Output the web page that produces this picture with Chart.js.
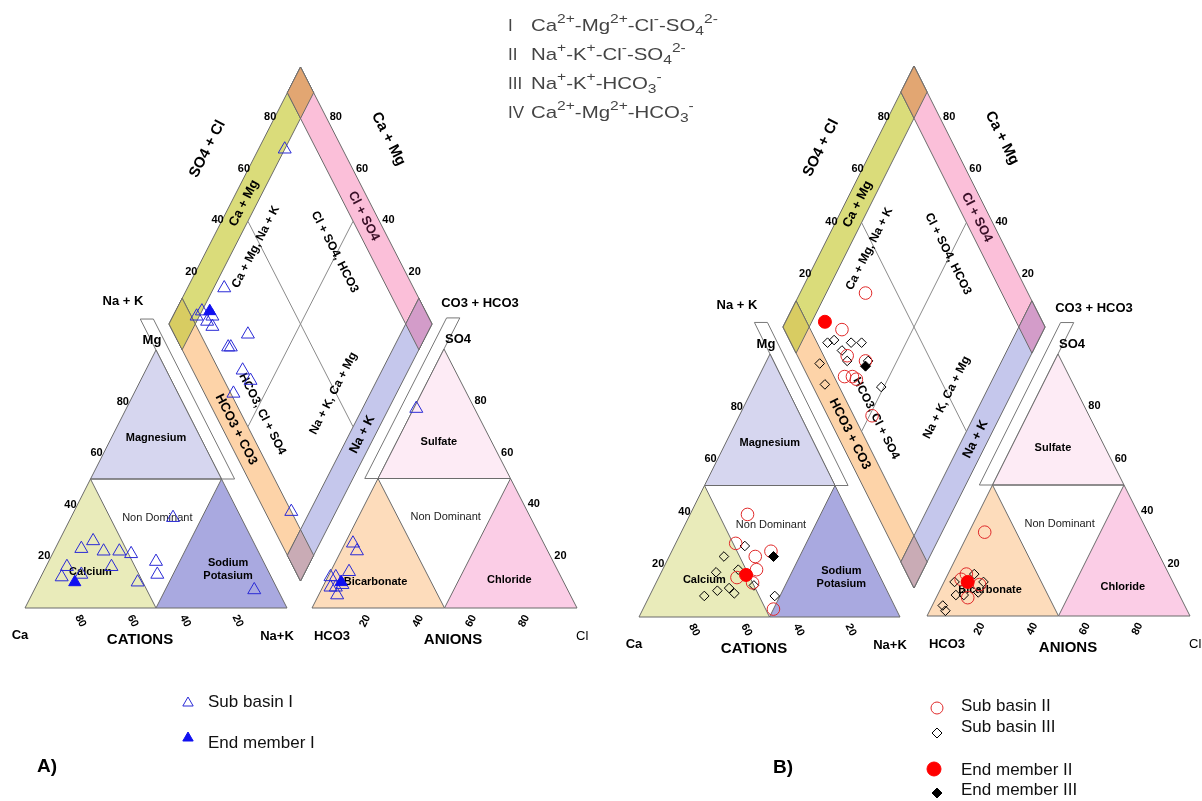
<!DOCTYPE html>
<html><head><meta charset="utf-8">
<script src="https://cdn.jsdelivr.net/npm/chart.js@4.4.1/dist/chart.umd.min.js"></script>
<style>html,body{margin:0;padding:0;background:#fff;}canvas{display:block;}</style>
</head><body>
<div style="width:1202px;height:801px;position:relative"><canvas id="c" width="1202" height="801"></canvas></div>
<script>
// ---------------- DATA (percent of meq/L) ----------------
const tickValues = [20, 40, 60, 80];

// Panel A - Sub basin I : cations (Ca, Mg, Na+K)
const A_I_ca  = [61, 67, 59, 53, 49, 41, 76, 59, 43, 80, 72, 52, 26, 9];
const A_I_mg  = [26, 23, 22, 22, 21, 18, 16, 16, 13, 12, 13, 10, 35, 7];
const A_I_nak = [13, 10, 19, 25, 30, 41,  8, 25, 44,  8, 15, 38, 39, 84];
// anions (HCO3, SO4, Cl)
const A_I_hco3 = [72, 72, 79, 87, 85, 89, 87, 84, 88, 22];
const A_I_so4  = [25, 22, 14, 12, 12,  8,  8,  9,  5, 77];
const A_I_cl   = [ 3,  6,  7,  1,  3,  3,  5,  7,  7,  1];
// diamond (Ca+Mg, SO4+Cl)
const A_I_camg  = [86, 90, 91, 86, 83, 85, 68, 73, 72, 63, 58, 62, 90, 17];
const A_I_so4cl = [28, 15, 12, 15, 16, 18, 28, 18, 19, 19, 20, 11, 78, 10];
// End member I
const A_EM_ca = [76], A_EM_mg = [10], A_EM_nak = [14];
const A_EM_hco3 = [84], A_EM_so4 = [10], A_EM_cl = [6];
const A_EM_camg = [87], A_EM_so4cl = [18];

// Panel B - Sub basin II
const B_II_ca  = [39, 49, 44, 37, 46, 55, 50, 47];
const B_II_mg  = [39, 28, 23, 25, 18, 15, 13, 3];
const B_II_nak = [22, 23, 33, 38, 36, 30, 37, 50];
const B_II_hco3 = [62, 77, 81, 74, 80];
const B_II_so4  = [32, 16, 7, 12, 14];
const B_II_cl   = [6, 7, 12, 14, 6];
const B_II_camg  = [75, 77, 70, 62, 67, 64, 62, 49];
const B_II_so4cl = [38, 22, 19, 25, 14, 17, 18, 17];
// Sub basin III
const B_III_ca  = [46, 56, 62, 53, 71, 65, 60, 59, 50, 44];
const B_III_mg  = [27, 23, 17, 18, 8, 10, 11, 9, 12, 8];
const B_III_nak = [27, 21, 21, 29, 21, 25, 29, 32, 38, 48];
const B_III_hco3 = [74, 72, 83, 85, 82, 76, 92, 92];
const B_III_so4  = [16, 13, 13, 8, 8, 9, 4, 2];
const B_III_cl   = [10, 15, 4, 7, 10, 15, 4, 6];
const B_III_camg  = [80, 78, 73, 71, 67, 69, 61, 79, 73, 51];
const B_III_so4cl = [14, 17, 18, 23, 27, 18, 26, 7, 5, 26];
// End members II and III
const B_EM2_ca = [51], B_EM2_mg = [16], B_EM2_nak = [33];
const B_EM2_hco3 = [78], B_EM2_so4 = [13], B_EM2_cl = [9];
const B_EM2_camg = [85], B_EM2_so4cl = [17];
const B_EM3_ca = [37], B_EM3_mg = [23], B_EM3_nak = [40];
const B_EM3_hco3 = [78], B_EM3_so4 = [13], B_EM3_cl = [9];
const B_EM3_camg = [61], B_EM3_so4cl = [24];

// ---------------- LAYOUT (geometry of the two Piper panels) ----------------
const G = {
  A: { cat: [[25,608],[156,350],[287,608]],      // Ca, Mg, Na+K corners
       an:  [[312,608],[444,349],[577,608]],     // HCO3, SO4, Cl corners
       dia: {bot:[300.5,581], left:[169,324], right:[432,324]} },
  B: { cat: [[639,617],[770,354],[900,617]],
       an:  [[927,616],[1058,354],[1190,616]],
       dia: {bot:[914,588], left:[783,327], right:[1045,327]} }
};
function tern(tri, a, b, c) {
  const s = a + b + c;
  return [(tri[0][0]*a + tri[1][0]*b + tri[2][0]*c)/s, (tri[0][1]*a + tri[1][1]*b + tri[2][1]*c)/s];
}
function dia(d, camg, so4cl) {
  return [d.bot[0] + camg/100*(d.left[0]-d.bot[0]) + so4cl/100*(d.right[0]-d.bot[0]),
          d.bot[1] + camg/100*(d.left[1]-d.bot[1]) + so4cl/100*(d.right[1]-d.bot[1])];
}
const toXY = p => ({x: p[0], y: p[1]});
function piperPoints(g, ca, mg, nak, hco3, so4, cl, camg, so4cl) {
  const out = [];
  ca.forEach((v,i) => out.push(toXY(tern(g.cat, v, mg[i], nak[i]))));
  hco3.forEach((v,i) => out.push(toXY(tern(g.an, v, so4[i], cl[i]))));
  camg.forEach((v,i) => out.push(toXY(dia(g.dia, v, so4cl[i]))));
  return out;
}

const FONT = "'Liberation Sans', Arial, sans-serif";
const COL = {
  mg: '#d6d6ef', ca: '#e9ebba', na: '#a9a9e0',
  so4: '#fdebf5', hco3: '#fddcbb', cl: '#fbcde6',
  bY: '#dadc7a', bP: '#fbbfd9', bO: '#fdd3a8', bB: '#c5c7ec',
  oT: '#e2a672', oL: '#d8cc62', oR: '#d39cc9', oB: '#c9abb5',
  edge: '#6b6b6b'
};

function poly(ctx, pts, fill, stroke) {
  ctx.beginPath(); ctx.moveTo(pts[0][0], pts[0][1]);
  for (let i=1;i<pts.length;i++) ctx.lineTo(pts[i][0], pts[i][1]);
  ctx.closePath();
  if (fill) { ctx.fillStyle = fill; ctx.fill(); }
  if (stroke) { ctx.strokeStyle = stroke; ctx.lineWidth = 1; ctx.stroke(); }
}
function pline(ctx, pts, stroke, w) {
  ctx.beginPath(); ctx.moveTo(pts[0][0], pts[0][1]);
  for (let i=1;i<pts.length;i++) ctx.lineTo(pts[i][0], pts[i][1]);
  ctx.strokeStyle = stroke; ctx.lineWidth = w || 1; ctx.stroke();
}
function text(ctx, s, p, o) {
  o = o || {};
  ctx.save(); ctx.translate(p[0] + (o.dx||0), p[1] + (o.dy||0));
  if (o.rot) ctx.rotate(o.rot);
  ctx.font = o.font || ('bold 12px ' + FONT);
  ctx.fillStyle = o.color || '#000';
  ctx.textAlign = o.align || 'center'; ctx.textBaseline = 'middle';
  if (Array.isArray(s)) s.forEach((t,i)=>ctx.fillText(t, 0, (i-(s.length-1)/2)*(o.lh||13)));
  else ctx.fillText(s, 0, 0);
  ctx.restore();
}
function marker(ctx, style, x, y, r, fill, stroke) {
  ctx.beginPath();
  if (style === 'triangle') { ctx.moveTo(x, y-r); ctx.lineTo(x+r*0.866, y+r*0.5); ctx.lineTo(x-r*0.866, y+r*0.5); ctx.closePath(); }
  else if (style === 'circle') ctx.arc(x, y, r, 0, Math.PI*2);
  else { ctx.moveTo(x, y-r); ctx.lineTo(x+r, y); ctx.lineTo(x, y+r); ctx.lineTo(x-r, y); ctx.closePath(); }
  if (fill) { ctx.fillStyle = fill; ctx.fill(); }
  if (stroke) { ctx.strokeStyle = stroke; ctx.lineWidth = 1; ctx.stroke(); }
}
function rich(ctx, x, y, parts, size, color, sx) {
  ctx.save(); ctx.translate(x, y); ctx.scale(sx || 1, 1);
  let cx = 0; ctx.fillStyle = color; ctx.textBaseline = 'alphabetic'; ctx.textAlign = 'left';
  parts.forEach(([s, m]) => {
    const fs = m ? Math.round(size*0.76) : size;
    ctx.font = fs + 'px ' + FONT;
    const dy = m === 'sup' ? -size*0.45 : (m === 'sub' ? size*0.25 : 0);
    ctx.fillText(s, cx, dy);
    cx += ctx.measureText(s).width;
  });
  ctx.restore();
}

function drawPanel(chart, ctx, g) {
  const sx = chart.scales.x, sy = chart.scales.y;
  const px = p => [sx.getPixelForValue(p[0]), sy.getPixelForValue(p[1])];
  const C = (a,b,c) => px(tern(g.cat,a,b,c));
  const A = (a,b,c) => px(tern(g.an,a,b,c));
  const D = (c,a) => px(dia(g.dia,c,a));
  const ang = (p,q) => Math.atan2(q[1]-p[1], q[0]-p[0]);
  const up = ang(D(100,0), D(100,100));     // about -63 deg
  const dn = ang(D(100,100), D(0,100));      // about +63 deg

  // ---- white side boxes
  poly(ctx, [C(0,50,50), C(0,112,-12), C(-5,112,-7), C(-5,50,55)], null, '#777');
  poly(ctx, [A(50,50,0), A(-12,112,0), A(-7,112,-5), A(55,50,-5)], null, '#777');

  // ---- cation triangle
  poly(ctx, [C(50,50,0), C(0,100,0), C(0,50,50)], COL.mg, COL.edge);
  poly(ctx, [C(100,0,0), C(50,50,0), C(50,0,50)], COL.ca, COL.edge);
  poly(ctx, [C(50,0,50), C(0,50,50), C(0,0,100)], COL.na, COL.edge);
  pline(ctx, [C(50,50,0), C(0,50,50)], COL.edge);
  // ---- anion triangle
  poly(ctx, [A(50,50,0), A(0,100,0), A(0,50,50)], COL.so4, COL.edge);
  poly(ctx, [A(100,0,0), A(50,50,0), A(50,0,50)], COL.hco3, COL.edge);
  poly(ctx, [A(50,0,50), A(0,50,50), A(0,0,100)], COL.cl, COL.edge);
  pline(ctx, [A(50,50,0), A(0,50,50)], COL.edge);

  // ---- diamond bands
  const band = (c0,c1,a0,a1,col) => poly(ctx, [D(c0,a0), D(c1,a0), D(c1,a1), D(c0,a1)], col, COL.edge);
  band(90,100,0,100,COL.bY); band(0,100,90,100,COL.bP);
  band(0,100,0,10,COL.bO);   band(0,10,0,100,COL.bB);
  band(90,100,90,100,COL.oT); band(90,100,0,10,COL.oL);
  band(0,10,90,100,COL.oR);   band(0,10,0,10,COL.oB);
  pline(ctx, [D(50,10), D(50,90)], '#8a8a8a');
  pline(ctx, [D(10,50), D(90,50)], '#8a8a8a');

  // ---- tick labels
  const tf = 'bold 11px ' + FONT;
  const catR = ang(C(0,100,0), C(0,0,100)), anL = ang(A(100,0,0), A(0,100,0));
  tickValues.forEach(v => {
    text(ctx, String(v), C(100-v, v, 0), {dx:-7, font:tf});
    text(ctx, String(v), C(v, 0, 100-v), {dx:3, dy:13, font:tf, rot:catR});
    text(ctx, String(v), A(0, v, 100-v), {dx:10, font:tf});
    text(ctx, String(v), A(100-v, 0, v), {dx:0, dy:13, font:tf, rot:anL});
    text(ctx, String(v), D(100, v), {dx:-4, dy:-1, font:tf});
    text(ctx, String(v), D(v, 100), {dx:9, dy:-1, font:tf});
  });

  // ---- region labels
  const rf = 'bold 11px ' + FONT, nf = '11px ' + FONT;
  text(ctx, 'Magnesium', C(17,66,17), {font:rf});
  text(ctx, 'Calcium', C(68,14,18), {font:rf});
  text(ctx, ['Sodium','Potasium'], C(15,15,70), {font:rf, lh:13});
  text(ctx, 'Non Dominant', C(32,35,33), {font:nf, color:'#222'});
  text(ctx, 'Sulfate', A(20,64,16), {font:rf});
  text(ctx, 'Bicarbonate', A(71,10,19), {font:rf});
  text(ctx, 'Chloride', A(20,11,69), {font:rf});
  text(ctx, 'Non Dominant', A(32,35,33), {font:nf, color:'#222'});

  // ---- axis labels
  const lf = 'bold 13px ' + FONT, bf = 'bold 15px ' + FONT;
  const ca = C(100,0,0), nk = C(0,0,100), mg = C(0,100,0);
  text(ctx, 'Ca', ca, {dx:-5, dy:27, font:lf});
  text(ctx, 'CATIONS', ca, {dx:115, dy:32, font:bf});
  text(ctx, 'Na+K', nk, {dx:-10, dy:28, font:lf});
  text(ctx, 'Mg', mg, {dx:-4, dy:-10, font:lf});
  text(ctx, 'Na + K', mg, {dx:-33, dy:-49, font:lf});
  const hc = A(100,0,0), cl = A(0,0,100), so = A(0,100,0);
  text(ctx, 'HCO3', hc, {dx:20, dy:28, font:lf});
  text(ctx, 'ANIONS', hc, {dx:141, dy:32, font:bf});
  text(ctx, 'Cl', cl, {dx:-1, dy:28, font:'13px ' + FONT, align:'left'});
  text(ctx, 'SO4', so, {dx:14, dy:-10, font:lf});
  text(ctx, 'CO3 + HCO3', so, {dx:36, dy:-46, font:lf});
  const top = D(100,100);
  text(ctx, 'SO4 + Cl', top, {dx:-93, dy:82, font:'bold 15px ' + FONT, rot:up});
  text(ctx, 'Ca + Mg', top, {dx:88, dy:72, font:'bold 15px ' + FONT, rot:dn});

  // ---- band & field labels in the diamond
  const df = 'bold 13px ' + FONT, ff = 'bold 12px ' + FONT;
  text(ctx, 'Ca + Mg', D(95,52), {font:df, rot:up});
  text(ctx, 'Cl + SO4', D(47,95), {font:df, rot:dn, color:'#3a1028'});
  text(ctx, 'HCO3 + CO3', D(54,5), {font:df, rot:dn});
  text(ctx, 'Na + K', D(5,52), {font:df, rot:up});
  text(ctx, 'Ca + Mg, Na + K', D(82,48), {font:ff, rot:up});
  text(ctx, 'Cl + SO4, HCO3', D(51,77), {font:ff, rot:dn});
  text(ctx, 'HCO3, Cl + SO4', D(47,18), {font:ff, rot:dn});
  text(ctx, 'Na + K, Ca + Mg', D(24,49), {font:ff, rot:up});
}

const bgPlugin = {
  id: 'piperBg',
  beforeDatasetsDraw(chart) {
    const ctx = chart.ctx; ctx.save();
    drawPanel(chart, ctx, G.A);
    drawPanel(chart, ctx, G.B);
    // hydrochemical types list
    const lines = [
      ['I',   [['Ca',''],['2+','sup'],['-Mg',''],['2+','sup'],['-Cl',''],['-','sup'],['-SO',''],['4','sub'],['2-','sup']]],
      ['II',  [['Na',''],['+','sup'],['-K',''],['+','sup'],['-Cl',''],['-','sup'],['-SO',''],['4','sub'],['2-','sup']]],
      ['III', [['Na',''],['+','sup'],['-K',''],['+','sup'],['-HCO',''],['3','sub'],['-','sup']]],
      ['IV',  [['Ca',''],['2+','sup'],['-Mg',''],['2+','sup'],['-HCO',''],['3','sub'],['-','sup']]]
    ];
    const base = [31, 60, 89, 118];
    lines.forEach(([num, parts], i) => {
      rich(ctx, 508, base[i], [[num,'']], 17, '#444', 1);
      rich(ctx, 531, base[i], parts, 17, '#444', 1.2);
    });
    ctx.restore();
  },
  afterDatasetsDraw(chart) {
    const ctx = chart.ctx; ctx.save();
    const lf = '17px ' + FONT;
    marker(ctx, 'triangle', 188, 703, 6, null, '#2a2ad6');
    text(ctx, 'Sub basin I', [208, 702], {font:lf, align:'left', color:'#111'});
    marker(ctx, 'triangle', 188, 738, 6, '#1010f0', '#1010f0');
    text(ctx, 'End member I', [208, 743], {font:lf, align:'left', color:'#111'});
    text(ctx, 'A)', [47, 767], {font:'bold 19px ' + FONT});
    marker(ctx, 'circle', 937, 708, 6, null, '#e02a2a');
    text(ctx, 'Sub basin II', [961, 706], {font:lf, align:'left', color:'#111'});
    marker(ctx, 'diamond', 937, 733, 5, null, '#000');
    text(ctx, 'Sub basin III', [961, 727], {font:lf, align:'left', color:'#111'});
    marker(ctx, 'circle', 934, 769, 7, '#ff0000', '#ff0000');
    text(ctx, 'End member II', [961, 770], {font:lf, align:'left', color:'#111'});
    marker(ctx, 'diamond', 937, 793, 5, '#000', '#000');
    text(ctx, 'End member III', [961, 790], {font:lf, align:'left', color:'#111'});
    text(ctx, 'B)', [783, 768], {font:'bold 19px ' + FONT});
    ctx.restore();
  }
};

const datasets = [
  { label: 'End member II', data: piperPoints(G.B, B_EM2_ca, B_EM2_mg, B_EM2_nak, B_EM2_hco3, B_EM2_so4, B_EM2_cl, B_EM2_camg, B_EM2_so4cl),
    pointStyle: 'circle', pointRadius: 6.5, backgroundColor: '#ff0000', borderColor: '#ff0000', borderWidth: 1 },
  { label: 'End member III', data: piperPoints(G.B, B_EM3_ca, B_EM3_mg, B_EM3_nak, B_EM3_hco3, B_EM3_so4, B_EM3_cl, B_EM3_camg, B_EM3_so4cl),
    pointStyle: 'rectRot', pointRadius: 5, backgroundColor: '#000', borderColor: '#000', borderWidth: 1 },
  { label: 'End member I', data: piperPoints(G.A, A_EM_ca, A_EM_mg, A_EM_nak, A_EM_hco3, A_EM_so4, A_EM_cl, A_EM_camg, A_EM_so4cl),
    pointStyle: 'triangle', pointRadius: 7, backgroundColor: '#1010f0', borderColor: '#1010f0', borderWidth: 1 },
  { label: 'Sub basin II', data: piperPoints(G.B, B_II_ca, B_II_mg, B_II_nak, B_II_hco3, B_II_so4, B_II_cl, B_II_camg, B_II_so4cl),
    pointStyle: 'circle', pointRadius: 6.3, backgroundColor: 'rgba(0,0,0,0)', borderColor: '#e02a2a', borderWidth: 1 },
  { label: 'Sub basin III', data: piperPoints(G.B, B_III_ca, B_III_mg, B_III_nak, B_III_hco3, B_III_so4, B_III_cl, B_III_camg, B_III_so4cl),
    pointStyle: 'rectRot', pointRadius: 4.8, backgroundColor: 'rgba(0,0,0,0)', borderColor: '#000', borderWidth: 1 },
  { label: 'Sub basin I', data: piperPoints(G.A, A_I_ca, A_I_mg, A_I_nak, A_I_hco3, A_I_so4, A_I_cl, A_I_camg, A_I_so4cl),
    pointStyle: 'triangle', pointRadius: 7.5, backgroundColor: 'rgba(0,0,0,0)', borderColor: '#2a2ad6', borderWidth: 1 }
];

new Chart(document.getElementById('c'), {
  type: 'scatter',
  data: { datasets },
  options: {
    responsive: false, animation: false, devicePixelRatio: 1,
    layout: { padding: 0, autoPadding: false },
    plugins: { legend: { display: false }, tooltip: { enabled: false } },
    elements: { point: { hoverRadius: 0 } },
    scales: {
      x: { type: 'linear', min: 0, max: 1202, display: false },
      y: { type: 'linear', min: 0, max: 801, reverse: true, display: false }
    }
  },
  plugins: [bgPlugin]
});
</script>
</body></html>
